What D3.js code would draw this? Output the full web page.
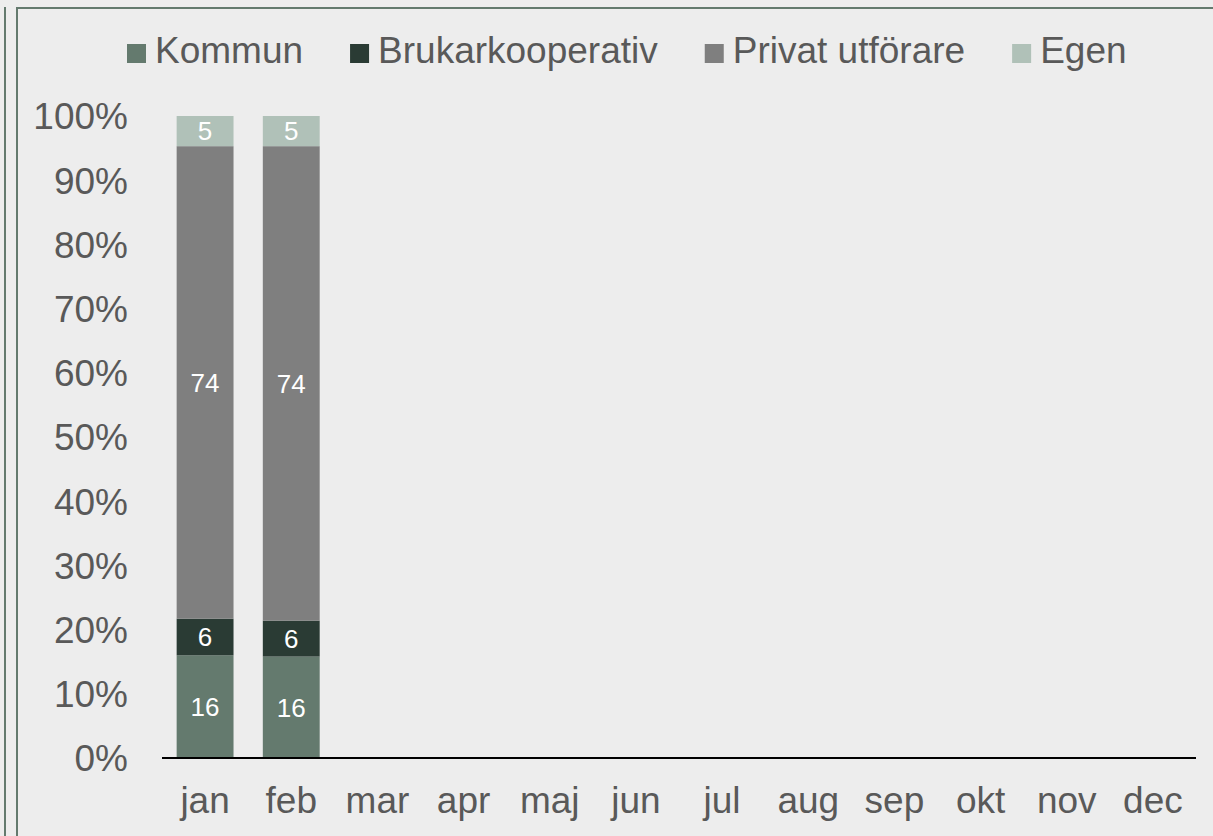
<!DOCTYPE html>
<html>
<head>
<meta charset="utf-8">
<script src="https://cdn.jsdelivr.net/npm/d3@7"></script>
<style>
  html, body { margin: 0; padding: 0; background: #ededed; }
  svg { display: block; }
  text { font-family: "Liberation Sans", Arial, sans-serif; }
</style>
</head>
<body>
<svg id="chart" width="1213" height="836"></svg>
<script>
const months = ["jan","feb","mar","apr","maj","jun","jul","aug","sep","okt","nov","dec"];
const seriesNames = ["Kommun","Brukarkooperativ","Privat utförare","Egen"];
const kommun = [16.0, 15.8];
const brukarkooperativ = [5.7, 5.6];
const privat = [73.6, 73.9];
const egen = [4.7, 4.7];
const yTicks = [0,10,20,30,40,50,60,70,80,90,100];
const colors = ["#647a6e", "#2a3b34", "#7f7f7f", "#b0c1b8"];

const svg = d3.select("#chart");
const W = 1213, H = 836;
svg.append("rect").attr("width", W).attr("height", H).attr("fill", "#ededed");

// frame lines
const frameColor = "#647a6e";
svg.append("line").attr("x1", 5).attr("x2", 5).attr("y1", 7).attr("y2", H).attr("stroke", frameColor).attr("stroke-width", 2);
svg.append("line").attr("x1", 17).attr("x2", 17).attr("y1", 8).attr("y2", H).attr("stroke", frameColor).attr("stroke-width", 2);
svg.append("line").attr("x1", 16).attr("x2", W).attr("y1", 8).attr("y2", 8).attr("stroke", frameColor).attr("stroke-width", 2);

const x = d3.scaleBand().domain(months).range([162, 1196]).paddingInner(0.34).paddingOuter(0.17);
const y = d3.scaleLinear().domain([0, 100]).range([758, 116]);

const seriesData = [kommun, brukarkooperativ, privat, egen];
const rows = months.slice(0, kommun.length).map((m, i) => {
  const r = { month: m };
  seriesNames.forEach((s, j) => r[s] = seriesData[j][i]);
  return r;
});
const stack = d3.stack().keys(seriesNames)(rows);

const textColor = "#595959";

// bars
stack.forEach((layer, j) => {
  const g = svg.append("g");
  g.selectAll("rect").data(layer).join("rect")
    .attr("x", d => x(d.data.month))
    .attr("width", x.bandwidth())
    .attr("y", d => y(d[1]))
    .attr("height", d => y(d[0]) - y(d[1]))
    .attr("fill", colors[j]);
  g.selectAll("text").data(layer).join("text")
    .attr("x", d => x(d.data.month) + x.bandwidth() / 2)
    .attr("y", d => (y(d[0]) + y(d[1])) / 2)
    .attr("dy", "0.36em")
    .attr("text-anchor", "middle")
    .attr("fill", "#ffffff")
    .attr("font-size", 26)
    .text(d => Math.round(d[1] - d[0]));
});

// y axis
const yAxis = d3.axisLeft(y).tickValues(yTicks).tickFormat(d => d + "%").tickSize(0).tickPadding(0);
const yg = svg.append("g").attr("transform", "translate(128,0)").call(yAxis);
yg.select(".domain").remove();
yg.selectAll("text").attr("font-size", 37).attr("fill", textColor).attr("font-family", "Liberation Sans, Arial, sans-serif").attr("dy", "0.35em");

// x axis
const xAxis = d3.axisBottom(x).tickSize(0).tickPadding(0);
const xg = svg.append("g").attr("transform", "translate(0,758)").call(xAxis);
xg.select(".domain").remove();
xg.selectAll("text").attr("font-size", 37).attr("fill", textColor).attr("font-family", "Liberation Sans, Arial, sans-serif").attr("dy", null).attr("y", 55);
svg.append("line").attr("x1", 162).attr("x2", 1196).attr("y1", 758).attr("y2", 758).attr("stroke", "#000").attr("stroke-width", 2);

// legend
const legend = svg.append("g");
let lx = 127;
seriesNames.forEach((s, j) => {
  legend.append("rect").attr("x", lx).attr("y", 44).attr("width", 19).attr("height", 19).attr("fill", colors[j]);
  const t = legend.append("text").attr("x", lx + 28).attr("y", 63).attr("font-size", 37).attr("fill", textColor).text(s);
  lx = lx + 28 + t.node().getComputedTextLength() + 47;
});
</script>
</body>
</html>
